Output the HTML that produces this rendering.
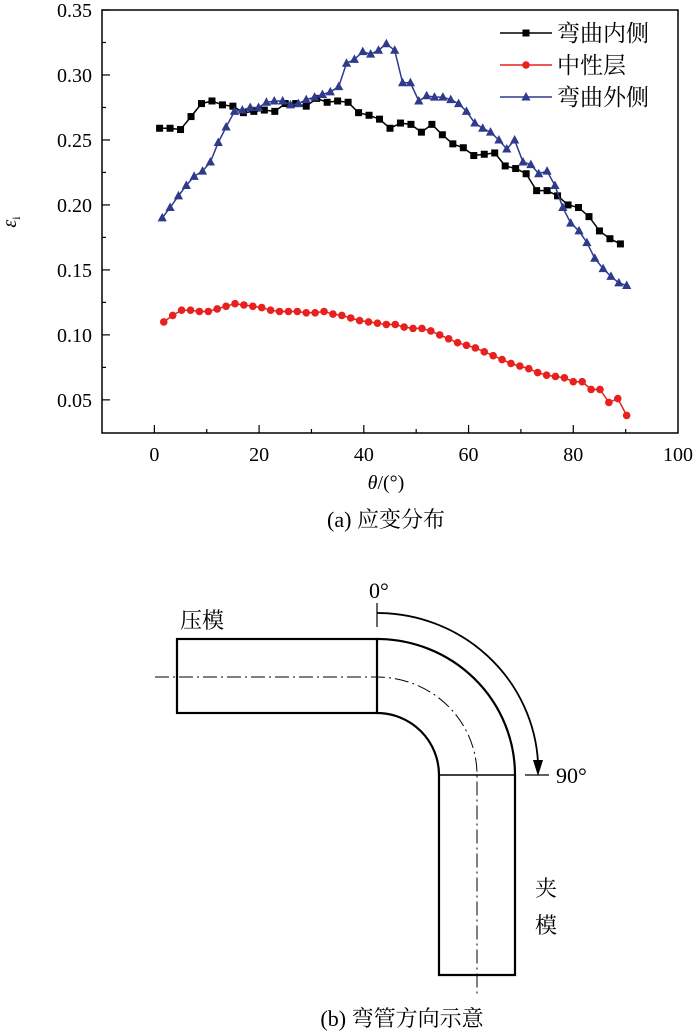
<!DOCTYPE html>
<html><head><meta charset="utf-8"><style>
html,body{margin:0;padding:0;background:#fff;}
svg{display:block;font-family:"Liberation Serif","Noto Serif CJK SC","Noto Sans CJK SC",serif;}
</style></head><body>
<svg id="root" width="700" height="1032" viewBox="0 0 700 1032">
<g id="chart"></g>
<g id="diagram" fill="none" stroke="#000">
  <rect x="177" y="639" width="200" height="74" stroke-width="2.2"/>
  <path d="M377 639 A138 136 0 0 1 515 775 L515 975 L439 975 L439 775 A62 62 0 0 0 377 713" stroke-width="2.2"/>
  <line x1="439" y1="775" x2="515" y2="775" stroke-width="1.5"/>
  <path d="M155 677 L377 677 A100 98 0 0 1 477 775 L477 997" stroke-width="1" stroke-dasharray="14,4,2,4"/>
  <line x1="377" y1="603" x2="377" y2="627" stroke-width="1.2"/>
  <line x1="525" y1="775" x2="549" y2="775" stroke-width="1.2"/>
  <path d="M377 613 A161 158 0 0 1 538 762" stroke-width="1.8"/>
  <path d="M533 760 L543 760 L538 776 Z" fill="#000" stroke="none"/>
</g>
<g font-size="22" fill="#000">
  <text x="369" y="598">0°</text>
  <text x="556" y="783">90°</text>
  <text x="180" y="628">压模</text>
  <text x="535" y="896">夹</text>
  <text x="535" y="933">模</text>
  <text x="386" y="527" text-anchor="middle">(a) 应变分布</text>
  <text x="402" y="1026" text-anchor="middle">(b) 弯管方向示意</text>
</g>
</svg>
<script>
const xTicks=[0,20,40,60,80,100];
const yTicks=[0.05,0.10,0.15,0.20,0.25,0.30,0.35];
const yTickLabels=["0.05","0.10","0.15","0.20","0.25","0.30","0.35"];
const seriesNames=["弯曲内侧","中性层","弯曲外侧"];
const innerTheta=[1,3,5,7,9,11,13,15,17,19,21,23,25,27,29,31,33,35,37,39,41,43,45,47,49,51,53,55,57,59,61,63,65,67,69,71,73,75,77,79,81,83,85,87,89];
const innerVals=[0.259,0.259,0.258,0.268,0.278,0.280,0.277,0.276,0.271,0.272,0.273,0.272,0.278,0.278,0.276,0.282,0.279,0.280,0.279,0.271,0.269,0.266,0.259,0.263,0.262,0.256,0.262,0.254,0.247,0.244,0.238,0.239,0.240,0.230,0.228,0.224,0.211,0.211,0.207,0.200,0.198,0.191,0.180,0.174,0.170];
const neutralTheta=[1.8,3.5,5.2,6.9,8.6,10.3,12.0,13.7,15.4,17.1,18.8,20.5,22.2,23.9,25.6,27.3,29.0,30.7,32.4,34.1,35.8,37.5,39.2,40.9,42.6,44.3,46.0,47.7,49.4,51.1,52.8,54.5,56.2,57.9,59.6,61.3,63.0,64.7,66.4,68.1,69.8,71.5,73.2,74.9,76.6,78.3,80.0,81.7,83.4,85.1,86.8,88.5,90.2];
const neutralVals=[0.110,0.115,0.119,0.119,0.118,0.118,0.120,0.122,0.124,0.123,0.122,0.121,0.119,0.118,0.118,0.118,0.117,0.117,0.118,0.116,0.115,0.113,0.111,0.110,0.109,0.108,0.108,0.106,0.105,0.105,0.103,0.100,0.097,0.094,0.092,0.090,0.087,0.084,0.081,0.078,0.076,0.074,0.071,0.069,0.068,0.067,0.064,0.064,0.058,0.058,0.048,0.051,0.038];
const outerTheta=[1.5,3.0,4.6,6.1,7.6,9.2,10.7,12.2,13.7,15.3,16.8,18.3,19.9,21.4,22.9,24.5,26.0,27.5,29.0,30.6,32.1,33.6,35.2,36.7,38.2,39.8,41.3,42.8,44.3,45.9,47.4,48.9,50.5,52.0,53.5,55.1,56.6,58.1,59.6,61.2,62.7,64.2,65.8,67.3,68.8,70.4,71.9,73.4,75.0,76.5,78.0,79.5,81.1,82.6,84.1,85.7,87.2,88.7,90.2];
const outerVals=[0.190,0.198,0.207,0.215,0.222,0.226,0.233,0.248,0.260,0.272,0.273,0.275,0.275,0.279,0.280,0.280,0.277,0.278,0.281,0.283,0.285,0.287,0.291,0.309,0.312,0.318,0.316,0.319,0.324,0.319,0.294,0.294,0.280,0.284,0.283,0.283,0.281,0.278,0.272,0.263,0.259,0.256,0.250,0.243,0.250,0.233,0.231,0.224,0.226,0.215,0.198,0.186,0.180,0.171,0.159,0.151,0.145,0.140,0.138];

const NS="http://www.w3.org/2000/svg";
const L=102,R=678,T=10,B=433;
const xMin=-10,xMax=100,yMin=0.0245,yMax=0.35;
function X(v){return L+(v-xMin)/(xMax-xMin)*(R-L);}
function Y(v){return B-(v-yMin)/(yMax-yMin)*(B-T);}
const g=document.getElementById('chart');
function mk(tag,attrs,parent){const e=document.createElementNS(NS,tag);for(const k in attrs)e.setAttribute(k,attrs[k]);(parent||g).appendChild(e);return e;}

const frame=mk('rect',{x:L,y:T,width:R-L,height:B-T,fill:'none',stroke:'#000','stroke-width':1.5});



xTicks.forEach((t,i)=>{
  const x=X(t);
  if(t<100){
    const tk=mk('line',{x1:x,y1:B,x2:x,y2:B-8,stroke:'#000','stroke-width':1.2});
    
    
    const mt=mk('line',{x1:X(t+10),y1:B,x2:X(t+10),y2:B-4,stroke:'#000','stroke-width':1.2});
    
    
  }
  const lb=mk('text',{x:x,y:B+28,'text-anchor':'middle','font-size':20});
  lb.textContent=String(t);
  
  
});
yTicks.forEach((t,i)=>{
  const y=Y(t);
  const tk=mk('line',{x1:L,y1:y,x2:L+8,y2:y,stroke:'#000','stroke-width':1.2});
  
  
  if(i<yTicks.length-1){
    const ym=Y(t+0.025);
    const mt=mk('line',{x1:L,y1:ym,x2:L+4,y2:ym,stroke:'#000','stroke-width':1.2});
    
    
  }
  const lb=mk('text',{x:L-10,y:y+7,'text-anchor':'end','font-size':20});
  lb.textContent=yTickLabels[i];
  
  
});
const xt=mk('text',{x:386,y:B+56,'text-anchor':'middle','font-size':20});
xt.innerHTML='<tspan font-style="italic">θ</tspan>/(°)';


const yt=mk('text',{x:0,y:0,'font-size':20,'font-style':'italic',transform:'translate(16,222) rotate(-90)','text-anchor':'middle'});
yt.innerHTML='ε<tspan font-size="12" dy="4" font-style="normal">i</tspan>';



function marker(type,cx,cy,color,parent){
  let e;
  if(type==='sq') e=mk('rect',{x:cx-3.5,y:cy-3.5,width:7,height:7,fill:color},parent);
  else if(type==='ci') e=mk('circle',{cx:cx,cy:cy,r:3.8,fill:color},parent);
  else e=mk('path',{d:`M${cx} ${cy-5} L${cx+4.6} ${cy+3.5} L${cx-4.6} ${cy+3.5} Z`,fill:color},parent);
  return e;
}
const series=[
 {th:innerTheta,v:innerVals,c:'#000000',m:'sq',n:'inner-side'},
 {th:neutralTheta,v:neutralVals,c:'#e8211e',m:'ci',n:'neutral-layer'},
 {th:outerTheta,v:outerVals,c:'#2e3a8c',m:'tr',n:'outer-side'}
];
series.forEach(s=>{
  const sg=mk('g',{});
  
  
  const pts=s.th.map((t,i)=>X(t).toFixed(1)+','+Y(s.v[i]).toFixed(1)).join(' ');
  const pl=mk('polyline',{points:pts,fill:'none',stroke:s.c,'stroke-width':1.5},sg);
  
  
  s.th.forEach((t,i)=>{
    const m=marker(s.m,X(t),Y(s.v[i]),s.c,sg);
    
    
  });
});
// legend
const lg=mk('g',{});


series.forEach((s,i)=>{
  const y=33+i*32;
  const ln=mk('line',{x1:500,y1:y,x2:552,y2:y,stroke:s.c,'stroke-width':1.5},lg);
  
  
  const m=marker(s.m,526,y,s.c,lg);
  
  
  const tx=mk('text',{x:557,y:y+8,'font-size':23},lg);
  tx.textContent=seriesNames[i];
  
  
});
</script>
</body></html>
